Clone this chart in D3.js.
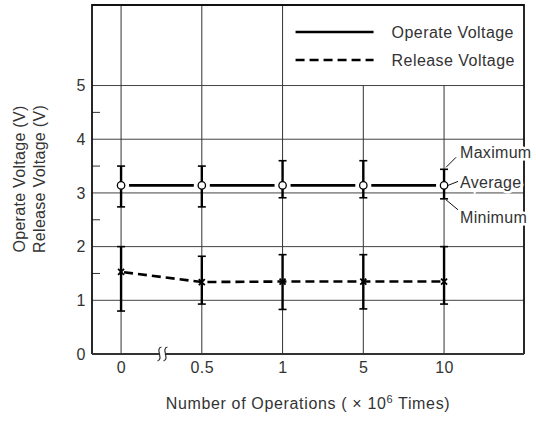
<!DOCTYPE html>
<html>
<head>
<meta charset="utf-8">
<script src="https://cdn.jsdelivr.net/npm/d3@7"></script>
<style>
  body { margin: 0; background: #fff; }
  svg text { font-family: "Liberation Sans", Arial, sans-serif; fill: #333; }
</style>
</head>
<body>
<div id="chart"></div>
<script>
// values
var categories = ['0', '0.5', '1', '5', '10'];
var operateAvg = [3.14, 3.14, 3.14, 3.14, 3.14];
var operateMax = [3.5, 3.5, 3.6, 3.6, 3.44];
var operateMin = [2.74, 2.74, 2.91, 2.91, 2.89];
var releaseAvg = [1.53, 1.34, 1.35, 1.35, 1.35];
var releaseMax = [2.0, 1.82, 1.85, 1.85, 2.0];
var releaseMin = [0.8, 0.93, 0.83, 0.84, 0.93];
var yTicks = [0, 1, 2, 3, 4, 5];
var yMinorTicks = [1.5, 2.5, 3.5, 4.5];
var legendLabels = ['Operate Voltage', 'Release Voltage'];
var noteLabels = ['Maximum', 'Average', 'Minimum'];

window.onload = function () {
    const width = 536;
    const height = 421;
    const plot = { left: 92, right: 524, top: 5, bottom: 354 };
    const fontSize = 16;

    var svg = d3.select('#chart').append('svg')
        .attr('width', width)
        .attr('height', height);

    var x = d3.scaleLinear().domain([-0.36, 4.99]).range([plot.left, plot.right]);
    var y = d3.scaleLinear().domain([0, 6.5]).range([plot.bottom, plot.top]);
    var idx = d3.range(categories.length);

    // G R I D
    svg.selectAll('.hgrid').data(yTicks.filter(d => d > 0)).enter().append('line')
        .attr('x1', plot.left).attr('x2', plot.right)
        .attr('y1', d => y(d)).attr('y2', d => y(d))
        .attr('stroke', '#444').attr('stroke-width', 1);

    // verticals right of "1" stop under the legend box
    svg.selectAll('.vgrid').data(idx).enter().append('line')
        .attr('x1', d => x(d)).attr('x2', d => x(d))
        .attr('y1', d => d <= 2 ? plot.top : y(5))
        .attr('y2', plot.bottom)
        .attr('stroke', '#333').attr('stroke-width', 1);

    svg.selectAll('.minor').data(yMinorTicks).enter().append('line')
        .attr('x1', plot.left).attr('x2', plot.left + 8)
        .attr('y1', d => y(d)).attr('y2', d => y(d))
        .attr('stroke', '#333').attr('stroke-width', 1);

    // F R A M E
    svg.append('path')
        .attr('d', 'M' + plot.left + ',' + plot.bottom + 'V' + plot.top + 'H' + plot.right + 'V' + plot.bottom)
        .attr('fill', 'none').attr('stroke', '#111').attr('stroke-width', 1.8);
    svg.append('line')
        .attr('x1', plot.left).attr('x2', plot.right)
        .attr('y1', plot.bottom).attr('y2', plot.bottom)
        .attr('stroke', '#333').attr('stroke-width', 2.2);

    // axis break between 0 and 0.5
    var bx = (x(0) + x(1)) / 2 + 1;
    svg.append('rect').attr('x', bx - 3).attr('y', plot.bottom - 2).attr('width', 6).attr('height', 4).attr('fill', '#fff');
    [-3, 3].forEach(function (o) {
        var cx = bx + o;
        svg.append('path')
            .attr('d', 'M' + (cx + 2) + ',' + (plot.bottom - 7) + 'C' + (cx - 3) + ',' + (plot.bottom - 6) + ' ' + (cx + 1) + ',' + (plot.bottom + 1) + ' ' + cx + ',' + plot.bottom
                + 'C' + (cx - 1) + ',' + (plot.bottom - 1) + ' ' + (cx + 3) + ',' + (plot.bottom + 6) + ' ' + (cx - 2) + ',' + (plot.bottom + 7))
            .attr('fill', 'none').attr('stroke', '#333').attr('stroke-width', 1.2);
    });

    // A X E S
    var yAxis = svg.append('g')
        .attr('transform', 'translate(' + plot.left + ',0)')
        .call(d3.axisLeft(y).tickValues(yTicks).tickFormat(d3.format('d')).tickSize(0).tickPadding(6));
    var xAxis = svg.append('g')
        .attr('transform', 'translate(0,' + plot.bottom + ')')
        .call(d3.axisBottom(x).tickValues(idx).tickFormat(i => categories[i]).tickSize(0).tickPadding(8));
    [yAxis, xAxis].forEach(function (g) {
        g.select('.domain').remove();
        g.attr('font-size', fontSize).attr('font-family', null);
        g.selectAll('text').attr('letter-spacing', 0.5);
    });

    // E R R O R  B A R S
    function errorBars(maxArr, minArr) {
        svg.append('g').selectAll('line').data(idx).enter().append('line')
            .attr('x1', d => x(d)).attr('x2', d => x(d))
            .attr('y1', d => y(maxArr[d])).attr('y2', d => y(minArr[d]))
            .attr('stroke', '#000').attr('stroke-width', 2.4);
        [maxArr, minArr].forEach(function (arr) {
            svg.append('g').selectAll('line').data(idx).enter().append('line')
                .attr('x1', d => x(d) - 4).attr('x2', d => x(d) + 4)
                .attr('y1', d => y(arr[d])).attr('y2', d => y(arr[d]))
                .attr('stroke', '#000').attr('stroke-width', 1.6);
        });
    }
    errorBars(operateMax, operateMin);
    errorBars(releaseMax, releaseMin);

    // O P E R A T E  (solid, gaps at the circles)
    svg.append('g').selectAll('line').data(idx.slice(0, -1)).enter().append('line')
        .attr('x1', d => x(d) + 8).attr('x2', d => x(d + 1) - 8)
        .attr('y1', d => y(operateAvg[d])).attr('y2', d => y(operateAvg[d + 1]))
        .attr('stroke', '#000').attr('stroke-width', 2.8);
    svg.append('g').selectAll('circle').data(idx).enter().append('circle')
        .attr('cx', d => x(d)).attr('cy', d => y(operateAvg[d]))
        .attr('r', 3.7)
        .attr('fill', '#fff').attr('stroke', '#000').attr('stroke-width', 1.3);

    // R E L E A S E  (dashed, x markers)
    svg.append('path')
        .datum(idx)
        .attr('d', d3.line().x(d => x(d)).y(d => y(releaseAvg[d])))
        .attr('fill', 'none').attr('stroke', '#000').attr('stroke-width', 2.6)
        .attr('stroke-dasharray', '9,5').attr('stroke-dashoffset', -3);
    svg.append('g').selectAll('path').data(idx).enter().append('path')
        .attr('transform', d => 'translate(' + x(d) + ',' + y(releaseAvg[d]) + ')')
        .attr('d', 'M-3,-3L3,3M-3,3L3,-3')
        .attr('stroke', '#000').attr('stroke-width', 1.8);

    // L E G E N D
    var lx = x(2);
    [0, 1].forEach(function (i) {
        var ly = 32 + i * 28;
        svg.append('line')
            .attr('x1', lx + 13).attr('x2', lx + 91)
            .attr('y1', ly).attr('y2', ly)
            .attr('stroke', '#000').attr('stroke-width', 2.6)
            .attr('stroke-dasharray', i ? '9,5' : null);
        svg.append('text')
            .attr('x', lx + 109).attr('y', ly + 5.8)
            .attr('font-size', fontSize).attr('letter-spacing', 0.45)
            .text(legendLabels[i]);
    });

    // N O T E S  on the last operate point
    var px = x(4);
    var notes = [
        { from: [px + 2, y(operateMax[4]) - 2], to: [px + 12, y(operateMax[4]) - 12], ty: y(operateMax[4]) - 11 },
        { from: [px + 4, y(operateAvg[4])], to: [px + 14, y(operateAvg[4]) - 4], ty: y(operateAvg[4]) + 2.5 },
        { from: [px + 2, y(operateMin[4]) + 1], to: [px + 14, y(operateMin[4]) + 11], ty: y(operateMin[4]) + 24 }
    ];
    notes.forEach(function (n, i) {
        svg.append('line')
            .attr('x1', n.from[0]).attr('y1', n.from[1])
            .attr('x2', n.to[0]).attr('y2', n.to[1])
            .attr('stroke', '#111').attr('stroke-width', 1);
        svg.append('text')
            .attr('x', px + 16).attr('y', n.ty)
            .attr('font-size', fontSize).attr('letter-spacing', 0.3)
            .attr('stroke', '#fff').attr('stroke-width', 5).attr('paint-order', 'stroke')
            .text(noteLabels[i]);
    });

    // T I T L E S
    var xt = svg.append('text')
        .attr('x', (plot.left + plot.right) / 2).attr('y', 409)
        .attr('text-anchor', 'middle')
        .attr('font-size', fontSize).attr('letter-spacing', 0.65);
    xt.append('tspan').text('Number of Operations ( \u00d7 10');
    xt.append('tspan').attr('dy', -6).attr('font-size', 11).text('6');
    xt.append('tspan').attr('dy', 6).text(' Times)');

    ['Operate Voltage (V)', 'Release Voltage (V)'].forEach(function (t, i) {
        svg.append('text')
            .attr('transform', 'translate(' + (25 + i * 20) + ',' + 179 + ') rotate(-90)')
            .attr('text-anchor', 'middle')
            .attr('font-size', fontSize).attr('letter-spacing', 0.3)
            .text(t);
    });
};
</script>
</body>
</html>
